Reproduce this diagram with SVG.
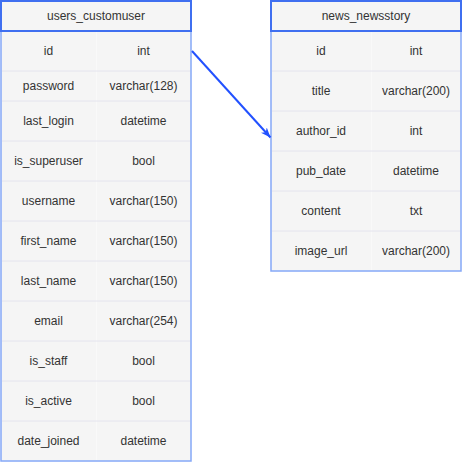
<svg xmlns="http://www.w3.org/2000/svg" width="462" height="462" viewBox="0 0 462 462">
<style>
.bg{fill:#ffffff}
.body{fill:#f5f5f5;stroke:#85a8f7;stroke-width:1.5}
.head{fill:#f5f5f5;stroke:#3f6ff0;stroke-width:2}
.sep{stroke:#e4e4ee;stroke-width:1}
.vsep{stroke:#f9f9f9;stroke-width:1}
text{font-family:"Liberation Sans",Arial,sans-serif;font-size:12px;fill:#333333;text-anchor:middle;dominant-baseline:central}
.conn{fill:none;stroke:#2251ff;stroke-width:2}
</style>
<defs>
<marker id="arrow" viewBox="0 0 10 8" refX="10" refY="4" markerWidth="10" markerHeight="8" markerUnits="userSpaceOnUse" orient="auto">
<path d="M0,0 L10,4 L0,8 L3,4 Z" fill="#2251ff"/>
</marker>
</defs>
<rect class="bg" x="0" y="0" width="462" height="462"/>
<g id="users_customuser">
<rect class="body" x="1" y="31" width="190" height="430"/>
<line class="vsep" x1="96.5" y1="31" x2="96.5" y2="460"/>
<line class="sep" x1="2" y1="71" x2="190" y2="71"/>
<line class="sep" x1="2" y1="101" x2="190" y2="101"/>
<line class="sep" x1="2" y1="141" x2="190" y2="141"/>
<line class="sep" x1="2" y1="181" x2="190" y2="181"/>
<line class="sep" x1="2" y1="221" x2="190" y2="221"/>
<line class="sep" x1="2" y1="261" x2="190" y2="261"/>
<line class="sep" x1="2" y1="301" x2="190" y2="301"/>
<line class="sep" x1="2" y1="341" x2="190" y2="341"/>
<line class="sep" x1="2" y1="381" x2="190" y2="381"/>
<line class="sep" x1="2" y1="421" x2="190" y2="421"/>
<rect class="head" x="1" y="1" width="190" height="30"/>
<text x="96" y="16">users_customuser</text>
<text x="48.5" y="51">id</text><text x="143.5" y="51">int</text>
<text x="48.5" y="86">password</text><text x="143.5" y="86">varchar(128)</text>
<text x="48.5" y="121">last_login</text><text x="143.5" y="121">datetime</text>
<text x="48.5" y="161">is_superuser</text><text x="143.5" y="161">bool</text>
<text x="48.5" y="201">username</text><text x="143.5" y="201">varchar(150)</text>
<text x="48.5" y="241">first_name</text><text x="143.5" y="241">varchar(150)</text>
<text x="48.5" y="281">last_name</text><text x="143.5" y="281">varchar(150)</text>
<text x="48.5" y="321">email</text><text x="143.5" y="321">varchar(254)</text>
<text x="48.5" y="361">is_staff</text><text x="143.5" y="361">bool</text>
<text x="48.5" y="401">is_active</text><text x="143.5" y="401">bool</text>
<text x="48.5" y="441">date_joined</text><text x="143.5" y="441">datetime</text>
</g>
<g id="news_newsstory">
<rect class="body" x="271" y="31" width="190" height="240"/>
<line class="vsep" x1="371.5" y1="31" x2="371.5" y2="270"/>
<line class="sep" x1="272" y1="71" x2="460" y2="71"/>
<line class="sep" x1="272" y1="111" x2="460" y2="111"/>
<line class="sep" x1="272" y1="151" x2="460" y2="151"/>
<line class="sep" x1="272" y1="191" x2="460" y2="191"/>
<line class="sep" x1="272" y1="231" x2="460" y2="231"/>
<rect class="head" x="271" y="1" width="190" height="30"/>
<text x="366" y="16">news_newsstory</text>
<text x="321" y="51">id</text><text x="416" y="51">int</text>
<text x="321" y="91">title</text><text x="416" y="91">varchar(200)</text>
<text x="321" y="131">author_id</text><text x="416" y="131">int</text>
<text x="321" y="171">pub_date</text><text x="416" y="171">datetime</text>
<text x="321" y="211">content</text><text x="416" y="211">txt</text>
<text x="321" y="251">image_url</text><text x="416" y="251">varchar(200)</text>
</g>
<g id="connectors">
<path class="conn" d="M192,51 L270.5,137.5" marker-end="url(#arrow)"/>
</g>
</svg>
